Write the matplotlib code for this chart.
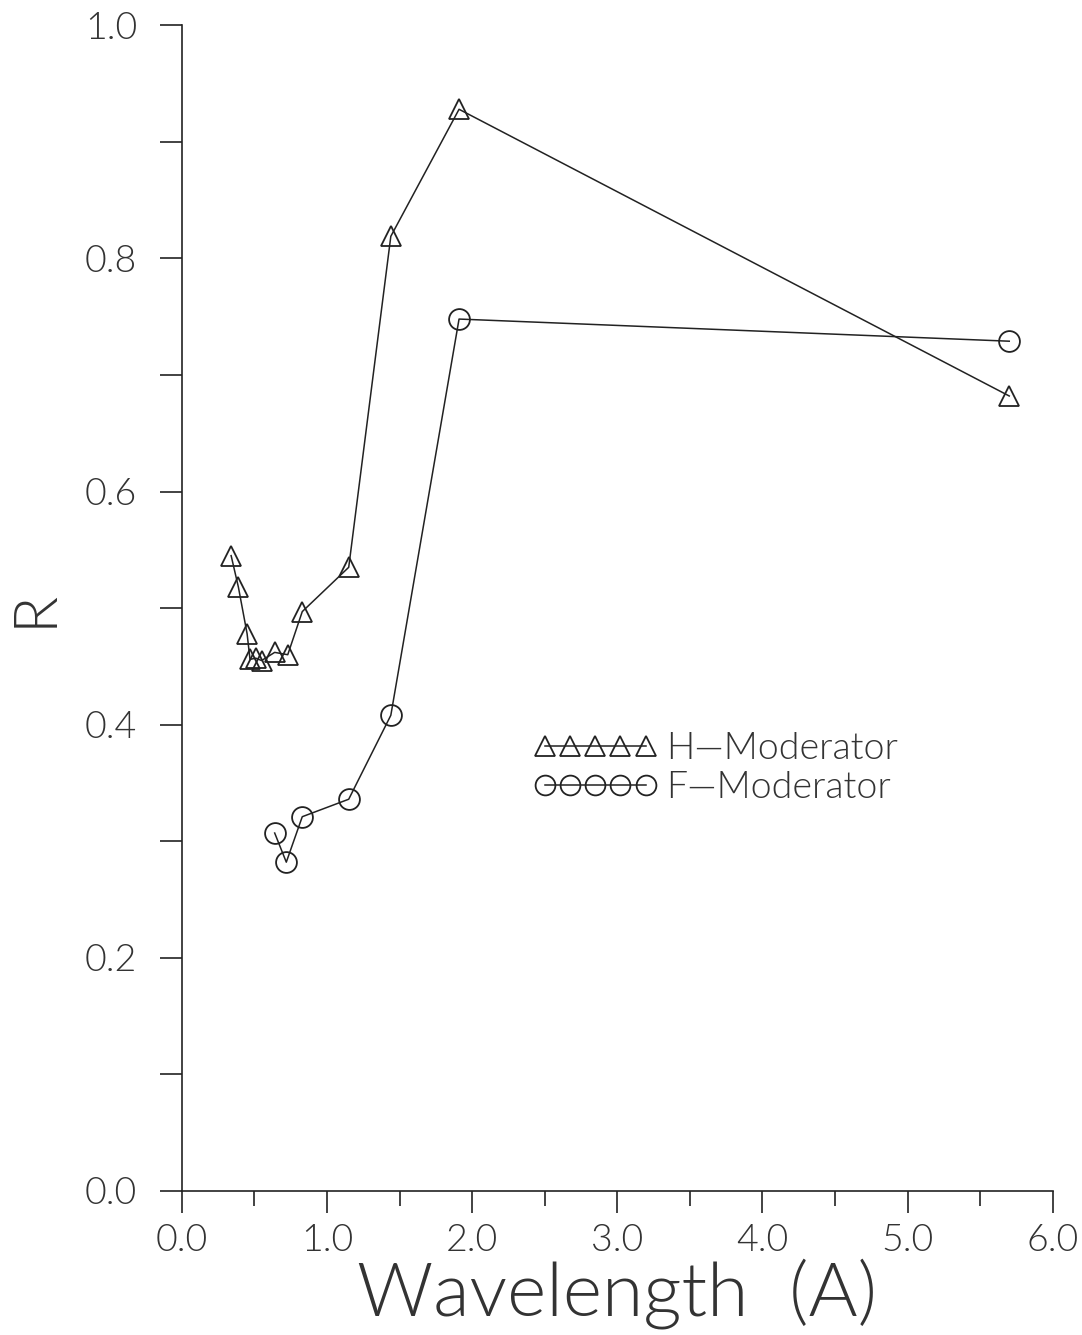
import matplotlib
matplotlib.use('Agg')
import matplotlib.pyplot as plt
from matplotlib.ticker import MultipleLocator

plt.rcParams['font.family'] = ['Lato', 'DejaVu Sans']
plt.rcParams['font.weight'] = 300
plt.rcParams['axes.labelweight'] = 300

# H-Moderator (triangles)
h_wave = [0.34, 0.39, 0.45, 0.47, 0.51, 0.55, 0.64, 0.73, 0.83, 1.15, 1.44, 1.91, 5.70]
h_r = [0.545, 0.518, 0.478, 0.456, 0.457, 0.455, 0.462, 0.460, 0.497, 0.535, 0.819, 0.928, 0.682]

# F-Moderator (circles)
f_wave = [0.64, 0.72, 0.83, 1.15, 1.44, 1.91, 5.70]
f_r = [0.307, 0.282, 0.321, 0.336, 0.408, 0.748, 0.729]

x_ticks = [0, 1, 2, 3, 4, 5, 6]
x_labels = ['0.0', '1.0', '2.0', '3.0', '4.0', '5.0', '6.0']
y_ticks = [0.0, 0.2, 0.4, 0.6, 0.8, 1.0]
y_labels = ['0.0', '0.2', '0.4', '0.6', '0.8', '1.0']

ink = '#222222'
txt = '#333333'

fig = plt.figure(figsize=(10.82, 13.35), dpi=100)
ax = fig.add_axes([0.168, 0.108, 0.805, 0.873])

ax.plot(h_wave, h_r, color=ink, lw=1.1, marker='^', markersize=15,
        markerfacecolor='none', markeredgecolor=ink, markeredgewidth=1.3,
        label='H\u2014Moderator')
ax.plot(f_wave, f_r, color=ink, lw=1.1, marker='o', markersize=15,
        markerfacecolor='none', markeredgecolor=ink, markeredgewidth=1.3,
        label='F\u2014Moderator')

ax.set_xlim(0, 6)
ax.set_ylim(0, 1.0)
ax.spines['top'].set_visible(False)
ax.spines['right'].set_visible(False)
for s in ('left', 'bottom'):
    ax.spines[s].set_color(ink)
    ax.spines[s].set_linewidth(1.2)

ax.set_xticks(x_ticks)
ax.set_xticklabels(x_labels, fontweight=300)
ax.set_yticks(y_ticks)
ax.set_yticklabels(y_labels, fontweight=300)
ax.xaxis.set_minor_locator(MultipleLocator(0.5))
ax.yaxis.set_minor_locator(MultipleLocator(0.1))
ax.tick_params(which='major', length=16, width=1.2, color=ink,
               labelsize=27, labelcolor=txt, pad=8)
ax.tick_params(which='minor', length=11, width=1.2, color=ink)
ax.tick_params(axis='y', which='both', length=16, pad=16)

ax.set_xlabel('Wavelength  (A)', fontsize=54, color=txt, labelpad=0,
              fontweight=300)
ax.set_ylabel('R', fontsize=44, color=txt, labelpad=16, fontweight=300)

leg = ax.legend(loc='upper left', bbox_to_anchor=(0.382, 0.41), frameon=False,
                numpoints=5, handlelength=3.3, fontsize=27, borderpad=0,
                handletextpad=0.25, labelspacing=0.15, markerscale=0.95)
for t in leg.get_texts():
    t.set_color(txt)
    t.set_fontweight(300)

fig.savefig('out.png', dpi=100)
